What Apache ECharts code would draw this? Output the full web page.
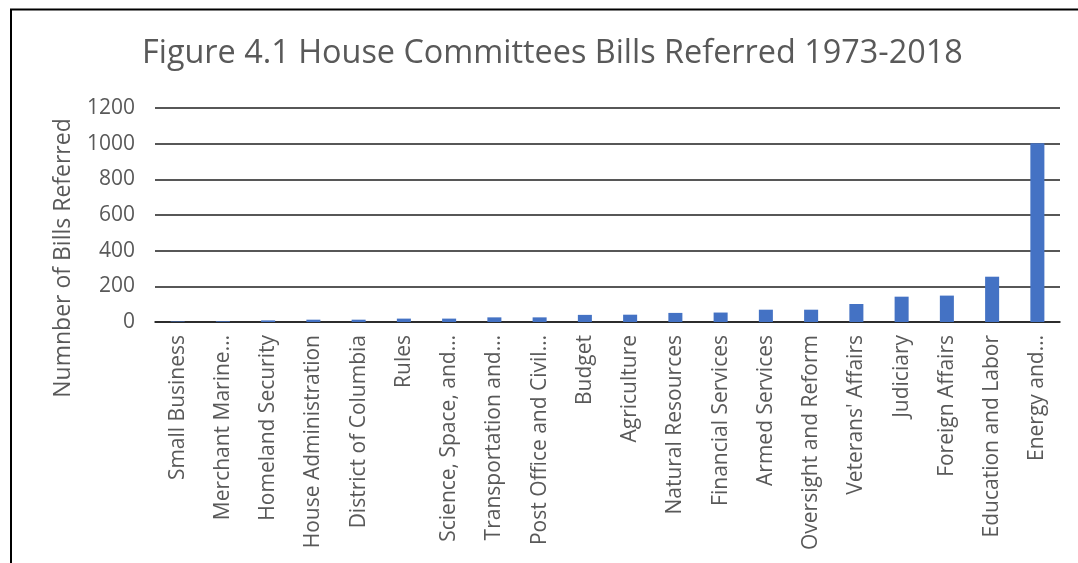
<!DOCTYPE html>
<html>
<head>
<meta charset="utf-8">
<script src="https://cdn.jsdelivr.net/npm/echarts@6/dist/echarts.min.js"></script>
<style>
  html, body { margin: 0; padding: 0; background: #fff; }
  #chart { width: 1078px; height: 563px; }
</style>
</head>
<body>
<div id="chart"></div>
<script>
// Committees, ordered from fewest to most bills referred
const committees = [
  'Small Business', 'Merchant Marine…', 'Homeland Security', 'House Administration',
  'District of Columbia', 'Rules', 'Science, Space, and…', 'Transportation and…',
  'Post Office and Civil…', 'Budget', 'Agriculture', 'Natural Resources',
  'Financial Services', 'Armed Services', 'Oversight and Reform', "Veterans' Affairs",
  'Judiciary', 'Foreign Affairs', 'Education and Labor', 'Energy and…'
];
const billsReferred = [3, 4, 9, 13, 13, 19, 19, 26, 26, 40, 41, 51, 53, 69, 69, 101, 142, 148, 254, 1002];
const yTicks = [0, 200, 400, 600, 800, 1000, 1200];

const titleText = 'Figure 4.1 House Committees Bills Referred 1973-2018';
const yAxisTitle = 'Numnber of Bills Referred';
const FONT = '"Open Sans", "Noto Sans", sans-serif';
const GREY = '#595959';

const chart = echarts.init(document.getElementById('chart'), null, { renderer: 'canvas' });

chart.setOption({
  animation: false,
  backgroundColor: '#ffffff',
  title: {
    text: titleText,
    left: 137,
    top: 33,
    textStyle: { fontFamily: FONT, fontSize: 32.4, fontWeight: 'normal', color: GREY }
  },
  grid: { left: 155, right: 18, top: 108, bottom: 241, containLabel: false },
  xAxis: {
    type: 'category',
    data: committees,
    axisLine: { show: true, lineStyle: { color: '#1f1f1f', width: 1.6 } },
    axisTick: { show: false },
    axisLabel: {
      rotate: 90,
      interval: 0,
      margin: 13,
      fontFamily: FONT,
      fontSize: 21,
      color: GREY
    }
  },
  yAxis: {
    type: 'value',
    min: yTicks[0],
    max: yTicks[yTicks.length - 1],
    interval: yTicks[1] - yTicks[0],
    axisLine: { show: false },
    axisTick: { show: false },
    axisLabel: {
      fontFamily: FONT,
      fontSize: 21,
      color: GREY,
      margin: 20,
      formatter: (v) => String(v)
    },
    splitLine: { show: true, lineStyle: { color: '#1f1f1f', width: 1.6 } }
  },
  series: [{
    type: 'bar',
    data: billsReferred,
    barWidth: '31%',
    itemStyle: { color: '#4472C4' }
  }],
  graphic: [
    {
      type: 'text',
      x: 63,
      y: 258,
      rotation: Math.PI / 2,
      style: {
        text: yAxisTitle,
        fontFamily: FONT,
        fontSize: 23,
        fill: GREY,
        textAlign: 'center',
        textVerticalAlign: 'middle'
      }
    },
    {
      type: 'polyline',
      shape: { points: [[11, 563], [11, 9.5], [1078, 9.5]] },
      style: { stroke: '#000000', lineWidth: 2, fill: null }
    }
  ]
});
</script>
</body>
</html>
